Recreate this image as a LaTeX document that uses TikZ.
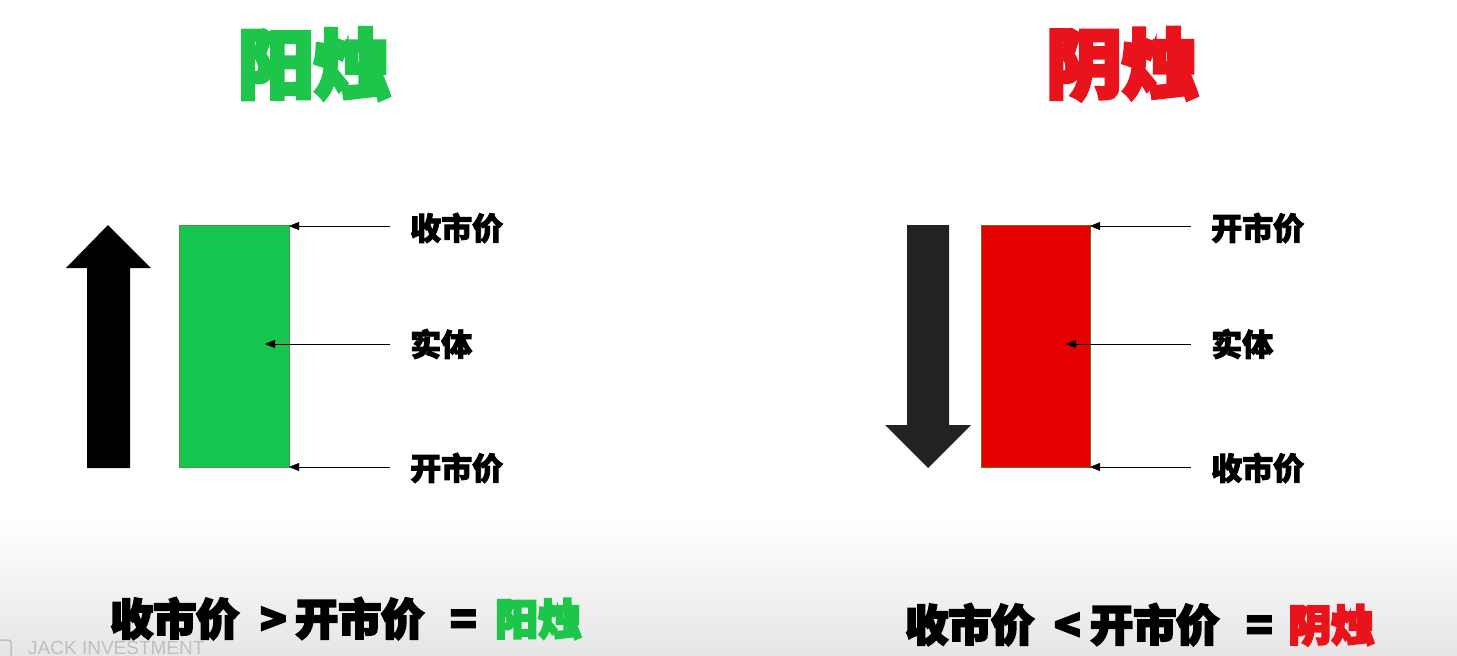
\documentclass[tikz,border=0pt]{standalone}
\usepackage{fontspec}
\usetikzlibrary{arrows.meta}
\newfontfamily\cjk{Noto Sans CJK SC}[BoldFeatures={FakeBold=3}]
\newfontfamily\cjkheavy{Noto Sans CJK SC}[BoldFeatures={FakeBold=5}]
\newfontfamily\wmfont{Liberation Sans}
\definecolor{yanggreen}{HTML}{16C64E}
\definecolor{yinred}{HTML}{E60000}
\definecolor{titlered}{HTML}{E8131B}
\definecolor{titlegreen}{HTML}{1DC64A}
\definecolor{darkarrow}{HTML}{222222}
\tikzset{
  title/.style={inner sep=0, font=\cjkheavy\bfseries\fontsize{76}{76}\selectfont},
  lbl/.style={inner sep=0, anchor=west, font=\cjk\bfseries\fontsize{31}{31}\selectfont},
  eq/.style={inner sep=0, anchor=base west, text height=0.84em, text depth=0pt, font=\cjkheavy\bfseries\fontsize{43}{43}\selectfont},
  pointer/.style={thin, -{Triangle[length=10pt,width=8pt]}}
}
\begin{document}
\begin{tikzpicture}[x=1pt,y=-1pt]
\useasboundingbox (0,0) rectangle (1457,656);
\clip (0,0) rectangle (1457,656);
\fill[white] (0,0) rectangle (1457,656);
\shade[top color=white,bottom color=black!10] (0,520) rectangle (1457,656);

% titles
\node[title, text=titlegreen] (t1) at (314,64) {阳烛};
\node[title, text=titlered] (t2) at (1122,64) {阴烛};

% left: up arrow
\fill[black] (87,468) -- (87,268) -- (66,268) -- (108,225) -- (151,268) -- (130,268) -- (130,468) -- cycle;
% green body
\draw[fill=yanggreen, draw=green!40!black!70, line width=0.8pt] (179,225) rectangle (289,467);
\coordinate (g1) at (289,226);
\coordinate (g2) at (265,344);
\coordinate (g3) at (289,467);
\node[lbl] (lc) at (410,228) {收市价};
\node[lbl] (lb) at (410,344) {实体};
\node[lbl] (lo) at (410,468) {开市价};
\draw[pointer] (390,226) -- (g1);
\draw[pointer] (390,344) -- (g2);
\draw[pointer] (390,467) -- (g3);

% right: down arrow
\fill[darkarrow] (907,225) -- (949,225) -- (949,425) -- (971,425) -- (928,468) -- (885,425) -- (907,425) -- cycle;
% red body
\draw[fill=yinred, draw=olive!70!black, line width=0.8pt] (981,225) rectangle (1090,467);
\coordinate (r1) at (1090,226);
\coordinate (r2) at (1066,344);
\coordinate (r3) at (1090,467);
\node[lbl] (ro) at (1211,228) {开市价};
\node[lbl] (rb) at (1211,344) {实体};
\node[lbl] (rc) at (1211,468) {收市价};
\draw[pointer] (1191,226) -- (r1);
\draw[pointer] (1191,344) -- (r2);
\draw[pointer] (1191,467) -- (r3);

% bottom formulas
\node[eq] (a1) at (110,635) {收市价};
\node[eq] (a2) at (260,635) {>};
\node[eq] (a3) at (295,635) {开市价};
\node[eq] (a4) at (450,635) {=};
\node[eq, text=titlegreen] (a5) at (495,635) {阳烛};

\node[eq] (b1) at (905,641) {收市价};
\node[eq] (b2) at (1054,641) {<};
\node[eq] (b3) at (1090,641) {开市价};
\node[eq] (b4) at (1246,641) {=};
\node[eq, text=titlered] (b5) at (1288,641) {阴烛};

% watermark
\draw[black!25, line width=1.5pt, rounded corners=3pt] (-4,640) rectangle (11,659);
\node[inner sep=0, anchor=base west, text=black!25, text depth=0pt, font=\wmfont\fontsize{19}{19}\selectfont] (wm) at (28,654) {JACK INVESTMENT};
\end{tikzpicture}
\end{document}
